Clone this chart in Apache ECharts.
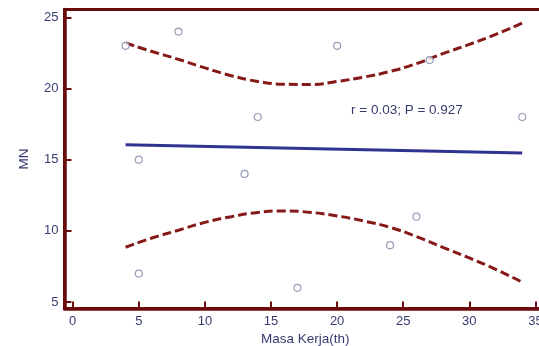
<!DOCTYPE html>
<html>
<head>
<meta charset="utf-8">
<script src="https://cdn.jsdelivr.net/npm/echarts@6/dist/echarts.min.js"></script>
<style>
  html, body { margin: 0; padding: 0; background: #fff; }
  #chart { width: 539px; height: 346px; }
</style>
</head>
<body>
<div id="chart"></div>
<script>
// data
const masaKerja = [4, 8, 20, 27, 14, 34, 5, 13, 26, 24, 5, 17];
const mn = [23, 24, 23, 22, 18, 18, 15, 14, 11, 9, 7, 6];

// regression line ends
const fitX = [4, 34];
const fitY = [16.05, 15.48];

// confidence band (dashed)
const bandX = [4, 6, 8, 10, 12, 14, 16, 18, 20, 22, 24, 26, 28, 30, 32, 34];
const upperY = [23.2, 22.6, 22.05, 21.45, 20.9, 20.5, 20.3, 20.28, 20.5, 20.8, 21.2, 21.75, 22.45, 23.1, 23.8, 24.6];
const lowerY = [8.85, 9.5, 10.05, 10.6, 11.0, 11.3, 11.4, 11.3, 11.05, 10.7, 10.25, 9.6, 8.85, 8.1, 7.3, 6.4];

const xTicks = [0, 5, 10, 15, 20, 25, 30, 35];
const yTicks = [5, 10, 15, 20, 25];
const statText = 'r = 0.03; P = 0.927';

const frameColor = '#6a0c0c';
const textColor = '#363b70';
const font = 'Liberation Sans, Arial, sans-serif';

const zip = (a, b) => a.map((v, i) => [v, b[i]]);

const chart = echarts.init(document.getElementById('chart'));

chart.setOption({
  backgroundColor: '#fff',
  animation: false,
  textStyle: { fontFamily: font },
  grid: {
    left: 64.5, top: 9.5, right: -7, bottom: 37.5,
    outerBoundsMode: 'none',
    show: true,
    borderColor: frameColor,
    borderWidth: 3
  },
  xAxis: {
    type: 'value',
    min: -0.62,
    max: 35.8,
    name: 'Masa Kerja(th)',
    nameLocation: 'middle',
    nameGap: 23,
    nameTextStyle: { color: textColor, fontSize: 13.5, fontFamily: font },
    splitLine: { show: false },
    axisLine: { onZero: false, lineStyle: { color: frameColor, width: 3.5 } },
    axisTick: {
      inside: true, length: 7, customValues: xTicks,
      lineStyle: { color: frameColor, width: 2 }
    },
    axisLabel: {
      customValues: xTicks, margin: 6,
      color: textColor, fontSize: 13, fontFamily: font
    }
  },
  yAxis: {
    type: 'value',
    min: 4.55,
    max: 25.55,
    name: 'MN',
    nameLocation: 'middle',
    nameGap: 33,
    nameTextStyle: { color: textColor, fontSize: 13.5, fontFamily: font },
    splitLine: { show: false },
    axisLine: { onZero: false, lineStyle: { color: frameColor, width: 3.5 } },
    axisTick: {
      inside: true, length: 7, customValues: yTicks,
      lineStyle: { color: frameColor, width: 2 }
    },
    axisLabel: {
      customValues: yTicks, margin: 6,
      color: textColor, fontSize: 13, fontFamily: font
    }
  },
  graphic: [{
    type: 'text',
    left: 351,
    top: 103,
    style: { text: statText, fill: textColor, font: '13.5px ' + font }
  }],
  series: [
    {
      type: 'line',
      data: zip(bandX, upperY),
      smooth: true,
      symbol: 'none',
      lineStyle: { color: '#861818', width: 3, type: [9, 4] },
      z: 2
    },
    {
      type: 'line',
      data: zip(bandX, lowerY),
      smooth: true,
      symbol: 'none',
      lineStyle: { color: '#861818', width: 3, type: [9, 4] },
      z: 2
    },
    {
      type: 'line',
      data: zip(fitX, fitY),
      symbol: 'none',
      lineStyle: { color: '#2e338f', width: 3 },
      z: 3
    },
    {
      type: 'scatter',
      data: zip(masaKerja, mn),
      symbol: 'circle',
      symbolSize: 7,
      itemStyle: { color: '#fff', borderColor: '#7d84a6', borderWidth: 1.2 },
      z: 4
    }
  ]
});
</script>
</body>
</html>
